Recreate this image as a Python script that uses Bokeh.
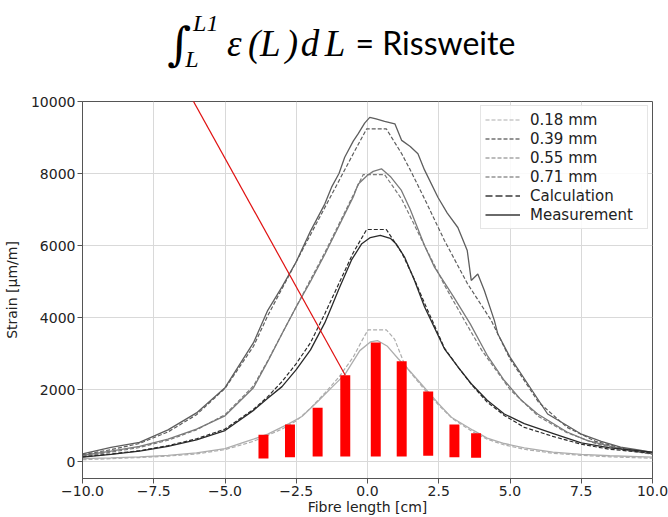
from bokeh.plotting import figure
from bokeh.layouts import column
from bokeh.models import FixedTicker, Label, Arrow, Legend, LegendItem, Range1d
from bokeh.embed import file_html
from bokeh.resources import INLINE

# ---------------- data ----------------
# 0.71 mm
m71_x = [-10, -9, -8, -7, -6, -5, -4, -3.5, -3, -2.5, -2, -1.5, -1.26, -1, -0.8, -0.5, -0.33, -0.1, 0.08,
         0.3, 0.6, 0.96, 1.2, 1.5, 1.77, 2.0, 2.47, 2.8, 3.17, 3.5, 3.64, 3.87, 4.1, 4.45, 4.57, 5.0,
         5.62, 6.32, 7.0, 7.48, 8.2, 8.88, 9.5, 10]
m71_y = [214, 390, 530, 880, 1350, 2050, 3300, 4200, 4850, 5550, 6400, 7150, 7620, 8000, 8450, 8900,
         9100, 9400, 9560, 9520, 9450, 9380, 8920, 8750, 8550, 8100, 7340, 6900, 6500, 5860, 5030,
         5210, 4750, 3920, 3550, 2900, 2160, 1320, 1000, 770, 560, 400, 320, 250]
c71_x = [-10, -9, -8, -7, -6, -5, -4, -3.5, -3, -2.5, -2, -1.5, -1, -0.5, -0.03, 0.66, 1.2, 1.5, 2.0,
         2.7, 3.5, 4.34, 5.0, 6.0, 7.0, 8.0, 9.0, 10]
c71_y = [190, 330, 500, 820, 1300, 2030, 3200, 4050, 4800, 5550, 6300, 7050, 7800, 8550, 9240, 9240,
         8550, 8100, 7300, 6140, 4950, 3920, 2850, 1650, 950, 560, 360, 230]
# 0.55 mm
m55_x = [-10, -9, -8, -7, -6, -5, -4, -3.5, -3, -2.5, -2, -1.5, -1, -0.5, -0.33, 0, 0.2, 0.49, 0.8,
         1.19, 1.5, 2.0, 2.35, 3.0, 3.6, 4.2, 4.8, 5.4, 5.97, 7.0, 7.72, 9.0, 10]
m55_y = [167, 290, 420, 620, 900, 1270, 2050, 2780, 3550, 4300, 5000, 5750, 6550, 7350, 7700, 7950,
         8060, 8130, 7920, 7530, 7000, 6000, 5400, 4600, 3830, 2950, 2250, 1700, 1320, 820, 580, 330, 214]
c55_x = [-10, -9, -8, -7, -6, -5, -4, -3.5, -3, -2.5, -2, -1.5, -1, -0.5, -0.15, 0.6, 1.19, 2.0, 2.7,
         3.4, 4.0, 5.0, 6.0, 7.0, 8.0, 9.0, 10]
c55_y = [150, 260, 390, 590, 880, 1300, 2100, 2800, 3550, 4300, 5050, 5800, 6600, 7400, 7970, 7970,
         7300, 6000, 4900, 3920, 3100, 2000, 1250, 800, 500, 320, 200]
# 0.39 mm
m39_x = [-10, -9, -8, -7, -6, -5, -4, -3.5, -3, -2.5, -2, -1.5, -1.26, -1, -0.56, -0.2, 0.1, 0.45,
         0.8, 1.0, 1.3, 1.65, 2.0, 2.7, 3.2, 3.64, 4.2, 4.8, 5.5, 6.55, 7.5, 8.5, 10]
m39_y = [120, 200, 290, 420, 600, 860, 1420, 1760, 2080, 2550, 3100, 3850, 4300, 4800, 5600, 6050,
         6220, 6280, 6200, 6050, 5680, 5030, 4300, 3130, 2600, 2160, 1700, 1320, 1050, 770, 520, 380, 258]
c39_x = [-10, -9, -8, -7, -6, -5, -4, -3.5, -3, -2.5, -2, -1.5, -1, -0.5, -0.03, 0.66, 1.2, 1.65, 2.0,
         2.7, 3.2, 3.64, 4.2, 4.8, 5.5, 6.5, 7.5, 8.5, 10]
c39_y = [130, 210, 300, 440, 630, 900, 1450, 1800, 2220, 2720, 3300, 4100, 4950, 5800, 6444, 6444,
         5800, 5050, 4400, 3150, 2600, 2150, 1650, 1280, 950, 700, 480, 340, 230]
# 0.18 mm
m18_x = [-10, -9, -8, -7, -6, -5, -4.4, -4, -3.5, -2.77, -2.3, -1.72, -1.2, -0.79, -0.27, 0.1, 0.35,
         0.7, 1.07, 1.5, 2.0, 2.5, 2.94, 3.7, 4.2, 4.8, 5.5, 6.5, 7.5, 8.5, 10]
m18_y = [80, 100, 130, 170, 240, 360, 520, 620, 760, 1047, 1250, 1690, 2100, 2420, 3080, 3320, 3360,
         3200, 2860, 2500, 2050, 1600, 1230, 870, 650, 500, 380, 260, 200, 160, 120]
c18_x = [-10, -9, -8, -7, -6, -5, -4, -3, -2.5, -2, -1.5, -1, -0.5, -0.2, 0.02, 0.66, 0.95, 1.3, 1.5,
         2.0, 2.5, 3.0, 3.7, 4.2, 4.8, 5.5, 6.5, 7.5, 8.5, 10]
c18_y = [50, 80, 110, 150, 210, 330, 560, 900, 1130, 1480, 1900, 2350, 2900, 3350, 3658, 3658, 3400,
         2700, 2480, 2000, 1560, 1180, 820, 620, 460, 340, 230, 170, 130, 90]

# red bars
bar_x = [-3.65, -2.72, -1.75, -0.78, 0.29, 1.20, 2.13, 3.05, 3.81]
bar_top = [742, 1028, 1492, 2397, 3306, 2786, 1944, 1028, 786]
bar_bottom = [83, 120, 139, 139, 139, 139, 158, 120, 103]

# red pointer line (start point, ends on the 4th bar top)
pointer_start = (-6.26, 10222)

legend_labels = ["0.18 mm", "0.39 mm", "0.55 mm", "0.71 mm", "Calculation", "Measurement"]
x_ticks = [-10, -7.5, -5, -2.5, 0, 2.5, 5, 7.5, 10]
y_ticks = [0, 2000, 4000, 6000, 8000, 10000]

# ---------------- styles ----------------
COL18, COL39, COL55, COL71 = "#adadad", "#2a2a2a", "#7a7a7a", "#5e5e5e"
FONT = "DejaVu Sans"
TITLE_H = 85

# ---------------- title strip (formula) ----------------
# the column aligns this strip's frame with the plot frame (x 80..652)
t = figure(width=668, height=TITLE_H, x_range=Range1d(80, 652), y_range=Range1d(TITLE_H, 0),
           output_backend="svg", toolbar_location=None, x_axis_location=None, y_axis_location=None,
           min_border=0)
t.grid.visible = False
t.outline_line_color = None
t.background_fill_color = "white"
t.border_fill_color = "white"

def tl(x, y, txt, font, size, style="normal"):
    t.add_layout(Label(x=x, y=y, text=txt, text_font=font, text_font_size=size,
                       text_font_style=style, text_color="black", text_baseline="alphabetic",
                       text_align="left"))

tl(165, 43, "\u222b", "DejaVu Serif", "46px")
tl(191, 22, "L1", "Liberation Serif", "24px", "italic")
tl(183, 58, "L", "Liberation Serif", "24px", "italic")
for xx, ch in zip([225, 246, 258, 284, 299, 323], ["\u03b5", "(", "L", ")", "d", "L"]):
    tl(xx, 43, ch, "Liberation Serif", "37px", "italic")
tl(354, 42, "= Rissweite", "Lato", "32px")

# ---------------- main plot ----------------
p = figure(width=668, height=517 - TITLE_H, x_range=Range1d(-10, 10), y_range=Range1d(-472, 10000),
           output_backend="svg", toolbar_location=None,
           min_border_left=80, min_border_right=16, min_border_top=16, min_border_bottom=33)
p.background_fill_color = "white"
p.border_fill_color = "white"
p.outline_line_color = "#555555"

xt = FixedTicker(ticks=x_ticks)
yt = FixedTicker(ticks=y_ticks)
p.xaxis.ticker = xt
p.yaxis.ticker = yt
p.xgrid.ticker = xt
p.ygrid.ticker = yt
p.grid.grid_line_color = "#d9d9d9"
p.grid.grid_line_width = 1

p.xaxis.major_label_overrides = {t_: ("\u2212" if t_ < 0 else "") + f"{abs(t_):.1f}" for t_ in x_ticks}
for ax in (p.xaxis[0], p.yaxis[0]):
    ax.axis_line_color = "#555555"
    ax.major_tick_line_color = "#555555"
    ax.minor_tick_line_color = None
    ax.major_tick_out = 5
    ax.major_tick_in = 0
    ax.major_label_text_font = FONT
    ax.major_label_text_font_size = "14px"
    ax.major_label_text_color = "#222222"
    ax.major_label_standoff = 2
    ax.axis_label_text_font = FONT
    ax.axis_label_text_font_size = "14px"
    ax.axis_label_text_font_style = "normal"
    ax.axis_label_text_color = "#222222"
p.yaxis.axis_label = "Strain [\u00b5m/m]"
p.yaxis.axis_label_standoff = 8
p.xaxis.axis_label = "Fibre length [cm]"
p.xaxis.axis_label_standoff = 0

def curve(xs, ys, color, dashed):
    if dashed:
        return p.line(xs, ys, line_color=color, line_width=1.2, line_dash="4 2")
    return p.line(xs, ys, line_color=color, line_width=1.3)

curve(m18_x, m18_y, COL18, False)
r18 = curve(c18_x, c18_y, COL18, True)
curve(m55_x, m55_y, COL55, False)
r55 = curve(c55_x, c55_y, COL55, True)
curve(m71_x, m71_y, COL71, False)
r71 = curve(c71_x, c71_y, COL71, True)
curve(m39_x, m39_y, COL39, False)
r39 = curve(c39_x, c39_y, COL39, True)

p.vbar(x=bar_x, width=0.35, top=bar_top, bottom=bar_bottom, fill_color="#ff0000", line_color=None)

p.add_layout(Arrow(end=None, x_start=pointer_start[0], y_start=pointer_start[1],
                   x_end=bar_x[3], y_end=bar_top[3], line_color="#e01010", line_width=1.2))

nan = float("nan")
rcalc = p.line([nan], [nan], line_color="#6a6a6a", line_width=2, line_dash="7 3")
rmeas = p.line([nan], [nan], line_color="#6a6a6a", line_width=2)
items = [LegendItem(label=legend_labels[i], renderers=[r]) for i, r in
         enumerate([r18, r39, r55, r71, rcalc, rmeas])]
legend = Legend(items=items, location="top_right", margin=4, padding=4, spacing=0,
                glyph_width=35, glyph_height=19, label_height=19, label_standoff=10,
                label_width=113,
                label_text_font=FONT, label_text_font_size="15px", label_text_color="#222222",
                border_line_color="#cccccc", background_fill_alpha=0.85)
p.add_layout(legend)

layout = column(t, p, spacing=0)
open("out.html", "w").write(file_html(layout, INLINE))
